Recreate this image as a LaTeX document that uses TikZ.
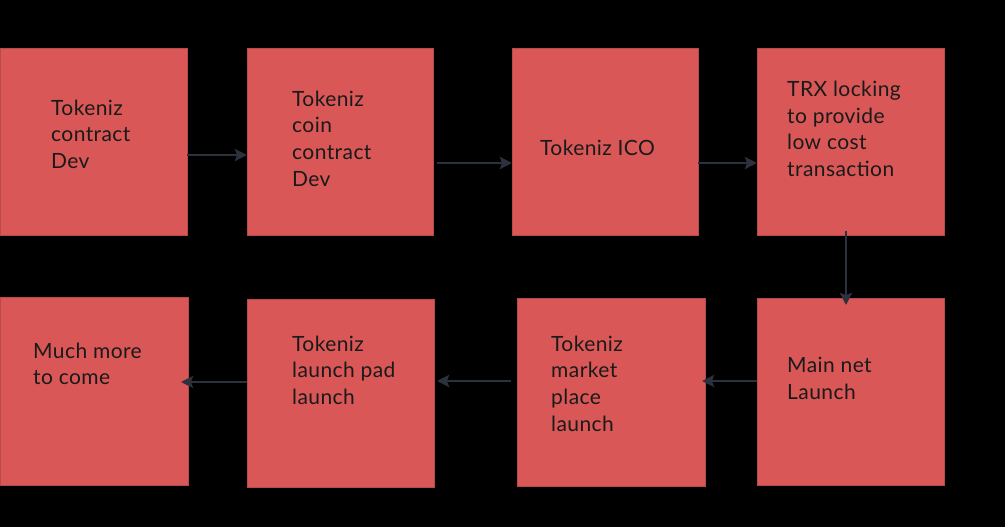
\documentclass[tikz,border=0pt]{standalone}
\usepackage{fontspec}
\setmainfont{Lato}[LetterSpace=2]
\usetikzlibrary{arrows.meta,calc}
\definecolor{boxred}{HTML}{D95757}
\definecolor{arrowc}{HTML}{2B313D}
\definecolor{txt}{HTML}{1A1A1A}
\tikzset{
  box/.style={fill=boxred, draw=boxred!85!black, line width=0.5pt, inner sep=0pt, outer sep=0pt, anchor=north west},
  lbl/.style={anchor=north west, inner sep=0pt, align=left, text=txt, font=\fontsize{21}{26.7}\selectfont},
  arr/.style={draw=arrowc, line width=2.8pt, -{Stealth[length=12pt,width=12pt,inset=2pt]}}
}
\begin{document}
\begin{tikzpicture}[x=1pt,y=-1pt]
\fill[black] (0,0) rectangle (1005,527);
\useasboundingbox (0,0) rectangle (1005,527);
% boxes
\node[box, minimum width=187pt, minimum height=187pt] (b1) at (0,48) {};
\node[box, minimum width=186pt, minimum height=187pt] (b2) at (247,48) {};
\node[box, minimum width=186pt, minimum height=187pt] (b3) at (512,48) {};
\node[box, minimum width=187pt, minimum height=187pt] (b4) at (757,48) {};
\node[box, minimum width=188pt, minimum height=188pt] (b5) at (0,297) {};
\node[box, minimum width=187pt, minimum height=188pt] (b6) at (247,299) {};
\node[box, minimum width=188pt, minimum height=188pt] (b7) at (517,298) {};
\node[box, minimum width=187pt, minimum height=187pt] (b8) at (757,298) {};
% labels
\node[lbl] (t1) at (51,99.5) {Tokeniz\\contract\\Dev};
\node[lbl] (t2) at (292,90.5) {Tokeniz\\coin\\contract\\Dev};
\node[lbl] (t3) at (540,139.5) {Tokeniz ICO};
\node[lbl] (t4) at (787,80.8) {TRX locking\\to provide\\low cost\\transaction};
\node[lbl] (t5) at (33,342.5) {Much more\\to come};
\node[lbl] (t6) at (292,335.5) {Tokeniz\\launch pad\\launch};
\node[lbl] (t7) at (551,335.5) {Tokeniz\\market\\place\\launch};
\node[lbl] (t8) at (787,357) {Main net\\Launch};
% arrows
\draw[arr] (b1.east |- 0,155) -- (b2.west |- 0,155);
\draw[arr] ($(b2.east |- 0,163)+(4,0)$) -- (b3.west |- 0,163);
\draw[arr] (b3.east |- 0,163) -- (b4.west |- 0,163);
\draw[arr] ($(b4.south -| 846,0)+(0,-4)$) -- ($(b8.north -| 846,0)+(0,7)$);
\draw[arr] (b8.west |- 0,381) -- ($(b7.east |- 0,381)+(-3,0)$);
\draw[arr] ($(b7.west |- 0,381)+(-6,0)$) -- ($(b6.east |- 0,381)+(3,0)$);
\draw[arr] (b6.west |- 0,382) -- ($(b5.east |- 0,382)+(-7,0)$);
\end{tikzpicture}
\end{document}
